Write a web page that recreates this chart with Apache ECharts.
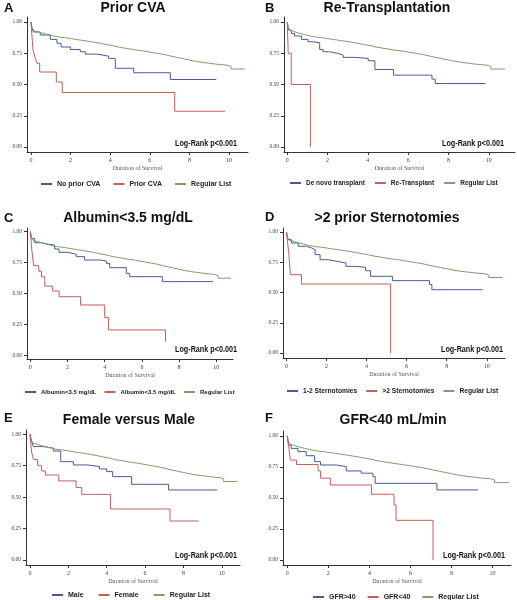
<!DOCTYPE html>
<html>
<head>
<meta charset="utf-8">
<script src="https://cdn.jsdelivr.net/npm/echarts@6/dist/echarts.min.js"></script>
<style>
html,body{margin:0;padding:0;background:#fff;}
#chart{width:517px;height:600px;}
</style>
</head>
<body>
<div id="chart"></div>
<script>
// ---------------- DATA ----------------
const xTickValues = [0, 2, 4, 6, 8, 10];
const yTickValues = [0, 0.25, 0.5, 0.75, 1];
const xAxisName = 'Duration of Survival';
const logRankText = 'Log-Rank p<0.001';
const panelLetters = ['A', 'B', 'C', 'D', 'E', 'F'];
const panelTitles = ['Prior CVA', 'Re-Transplantation', 'Albumin<3.5 mg/dL', '>2 prior Sternotomies', 'Female versus Male', 'GFR<40 mL/min'];
const legendNames = [
  ['No prior CVA', 'Prior CVA', 'Regular List'],
  ['De novo transplant', 'Re-Transplant', 'Regular List'],
  ['Albumin<3.5 mg/dL', 'Albumin<3.5 mg/dL ', 'Regular List'],
  ['1-2 Sternotomies', '>2 Sternotomies', 'Regular List'],
  ['Male', 'Female', 'Regular List'],
  ['GFR>40', 'GFR<40', 'Regular List']
];

// Regular list (same cohort in every panel): [years, survival]
const regularList = [[0,1],[0.03,0.97],[0.08,0.95],[0.15,0.93],[0.25,0.92],[0.4,0.91],[0.6,0.90],[0.85,0.89],[1.1,0.88],[1.4,0.875],[1.7,0.868],[2.0,0.86],[2.3,0.853],[2.6,0.846],[2.9,0.838],[3.2,0.83],[3.5,0.82],[3.8,0.812],[4.1,0.80],[4.4,0.792],[4.7,0.784],[5.0,0.776],[5.3,0.77],[5.6,0.762],[5.9,0.754],[6.2,0.746],[6.5,0.738],[6.8,0.726],[7.1,0.716],[7.4,0.706],[7.7,0.696],[8.0,0.686],[8.3,0.678],[8.6,0.672],[8.9,0.666],[9.2,0.66],[9.5,0.655],[9.9,0.645],[10.1,0.624],[10.8,0.624]];

const aNoPriorCVA = [[0,1],[0.05,0.95],[0.13,0.92],[0.47,0.896],[0.98,0.861],[1.31,0.83],[1.52,0.80],[1.99,0.78],[2.49,0.762],[2.74,0.743],[3.33,0.727],[3.92,0.709],[4.26,0.63],[5.19,0.594],[7.04,0.54],[9.36,0.54]];
const aPriorCVA = [[0,1],[0.1,0.78],[0.2,0.72],[0.3,0.67],[0.44,0.60],[1.28,0.52],[1.58,0.436],[7.26,0.286],[9.8,0.286]];

const bDeNovoTransplant = [[0,1],[0.07,0.936],[0.2,0.909],[0.37,0.888],[0.7,0.861],[1.03,0.842],[1.28,0.834],[1.61,0.78],[1.78,0.762],[2.11,0.749],[2.52,0.735],[2.77,0.717],[3.36,0.709],[4.02,0.69],[4.35,0.62],[5.27,0.575],[7.18,0.543],[7.34,0.508],[9.83,0.508]];
const bReTransplant = [[0,1],[0.05,0.75],[0.2,0.5],[1.15,0]];

const cAlbuminFirst = [[0,1],[0.07,0.946],[0.23,0.911],[0.59,0.898],[1.0,0.892],[1.31,0.86],[1.54,0.833],[2.03,0.817],[2.47,0.798],[2.92,0.771],[3.73,0.763],[4.09,0.744],[4.27,0.709],[5.16,0.663],[5.34,0.636],[7.1,0.596],[9.82,0.596]];
const cAlbuminSecond = [[0,1],[0.08,0.85],[0.18,0.725],[0.45,0.68],[0.6,0.635],[0.78,0.56],[1.2,0.52],[1.55,0.474],[2.7,0.407],[4.0,0.305],[4.2,0.205],[7.27,0.11]];

const dSternotomies12 = [[0,1],[0.08,0.937],[0.25,0.909],[0.59,0.882],[1.0,0.868],[1.26,0.854],[1.43,0.813],[1.68,0.771],[2.1,0.758],[2.52,0.744],[2.97,0.716],[3.45,0.708],[3.95,0.68],[4.2,0.634],[5.29,0.598],[7.14,0.565],[7.26,0.523],[9.8,0.523]];
const dSternotomiesOver2 = [[0,1],[0.05,0.93],[0.12,0.82],[0.2,0.647],[0.75,0.57],[5.2,0]];

const eMale = [[0,1],[0.09,0.942],[0.17,0.902],[0.7,0.889],[1.22,0.867],[1.6,0.782],[2.26,0.756],[2.99,0.743],[3.62,0.724],[4.0,0.703],[4.31,0.663],[5.3,0.602],[7.22,0.557],[9.77,0.557]];
const eFemale = [[0,1],[0.08,0.86],[0.18,0.80],[0.4,0.75],[0.6,0.708],[0.8,0.676],[1.5,0.629],[2.4,0.576],[2.7,0.522],[4.2,0.406],[7.3,0.31],[8.8,0.31]];

const fGfrAbove40 = [[0,1],[0.06,0.927],[0.19,0.90],[0.52,0.874],[0.92,0.841],[1.33,0.793],[1.62,0.766],[2.38,0.753],[2.87,0.718],[3.6,0.70],[4.17,0.672],[4.28,0.618],[7.29,0.565],[9.3,0.565]];
const fGfrBelow40 = [[0,1],[0.08,0.9],[0.15,0.806],[0.45,0.77],[1.5,0.718],[1.62,0.66],[2.1,0.605],[4.1,0.53],[5.2,0.444],[5.3,0.32],[7.1,0]];

const panelSeries = [
  [aNoPriorCVA, aPriorCVA, regularList],
  [bDeNovoTransplant, bReTransplant, regularList],
  [cAlbuminFirst, cAlbuminSecond, regularList],
  [dSternotomies12, dSternotomiesOver2, regularList],
  [eMale, eFemale, regularList],
  [fGfrAbove40, fGfrBelow40, regularList]
];

// ---------------- LAYOUT / STYLE ----------------
const seriesColors = ['#4b5a94', '#c85e5a', '#7e9e6e'];
const layout = [
  {left:27, top:17, width:221, height:135, xMin:-0.2, xMax:10.96, yMin:-0.04, yMax:1.04, letter:[4,8], title:[133,8], legend:[41,180], legendGap:13, legendFont:7, lr:[237,143]},
  {left:284, top:17, width:231, height:135, xMin:-0.16, xMax:11.3, yMin:-0.04, yMax:1.04, letter:[265,8], title:[387,8], legend:[290,179], legendGap:10, legendFont:6.5, lr:[504,143]},
  {left:27, top:228, width:206, height:131, xMin:-0.18, xMax:10.9, yMin:-0.03, yMax:1.03, letter:[4,218], title:[128,218], legend:[25,388], legendGap:8, legendFont:6, lr:[237,349]},
  {left:283, top:228, width:222, height:130, xMin:-0.17, xMax:10.91, yMin:-0.041, yMax:1.033, letter:[265,217], title:[387,218], legend:[287,387], legendGap:9, legendFont:6.7, lr:[503,349]},
  {left:26, top:430, width:214, height:135, xMin:-0.21, xMax:10.95, yMin:-0.04, yMax:1.034, letter:[4,418], title:[129,420], legend:[52,591], legendGap:15, legendFont:7, lr:[237,555]},
  {left:283, top:431, width:228, height:134, xMin:-0.21, xMax:10.9, yMin:-0.04, yMax:1.04, letter:[265,418], title:[393,420], legend:[313,593], legendGap:12, legendFont:7, lr:[505,555]}
];

const grids = [], xAxes = [], yAxes = [], series = [], legends = [], graphics = [];
layout.forEach((L, i) => {
  grids.push({left: L.left, top: L.top, width: L.width, height: L.height, containLabel: false});
  xAxes.push({
    type: 'value', gridIndex: i, min: L.xMin, max: L.xMax,
    name: xAxisName, nameLocation: 'middle', nameGap: 13,
    nameTextStyle: {fontFamily: 'Liberation Serif', fontSize: 6, color: '#555'},
    axisLine: {show: true, onZero: false, lineStyle: {color: '#333', width: 1}},
    axisTick: {show: true, length: 3, customValues: xTickValues, lineStyle: {color: '#333'}},
    axisLabel: {customValues: xTickValues, fontFamily: 'Liberation Serif', fontSize: 6, color: '#444', margin: 5},
    splitLine: {show: false}
  });
  yAxes.push({
    type: 'value', gridIndex: i, min: L.yMin, max: L.yMax,
    axisLine: {show: true, onZero: false, lineStyle: {color: '#333', width: 1}},
    axisTick: {show: true, length: 3, customValues: yTickValues, lineStyle: {color: '#333'}},
    axisLabel: {customValues: yTickValues, fontFamily: 'Liberation Serif', fontSize: 5.5, color: '#444', margin: 5,
      formatter: v => v.toFixed(2)},
    splitLine: {show: false}
  });
  panelSeries[i].forEach((d, k) => {
    series.push({
      name: legendNames[i][k], type: 'line', step: 'end', xAxisIndex: i, yAxisIndex: i,
      data: d, showSymbol: false, symbol: 'none', color: seriesColors[k],
      lineStyle: {width: 1, color: seriesColors[k]}, z: k === 1 ? 3 : 2
    });
  });
  legends.push({
    data: legendNames[i], left: L.legend[0], top: L.legend[1], padding: 0,
    itemGap: L.legendGap, itemWidth: 11, itemHeight: 2, icon: 'rect',
    formatter: n => n.trim(),
    textStyle: {fontFamily: 'Liberation Sans', fontWeight: 'bold', fontSize: L.legendFont, lineHeight: 8, color: '#222'},
    selectedMode: false
  });
  graphics.push({type: 'text', x: L.letter[0], y: L.letter[1],
    style: {text: panelLetters[i], font: 'bold 13px "Liberation Sans"', fill: '#111', align: 'left', verticalAlign: 'middle'}});
  graphics.push({type: 'text', x: L.title[0], y: L.title[1],
    style: {text: panelTitles[i], font: 'bold 14px "Liberation Sans"', fill: '#111', align: 'center', verticalAlign: 'middle'}});
  graphics.push({type: 'text', x: L.lr[0], y: L.lr[1], scaleX: 0.76,
    style: {text: logRankText, font: 'bold 9.5px "Liberation Sans"', fill: '#111', align: 'right', verticalAlign: 'middle'}});
});

const chart = echarts.init(document.getElementById('chart'), null, {renderer: 'canvas'});
chart.setOption({
  animation: false,
  backgroundColor: '#fff',
  grid: grids, xAxis: xAxes, yAxis: yAxes, series: series, legend: legends, graphic: graphics
});
</script>
</body>
</html>
